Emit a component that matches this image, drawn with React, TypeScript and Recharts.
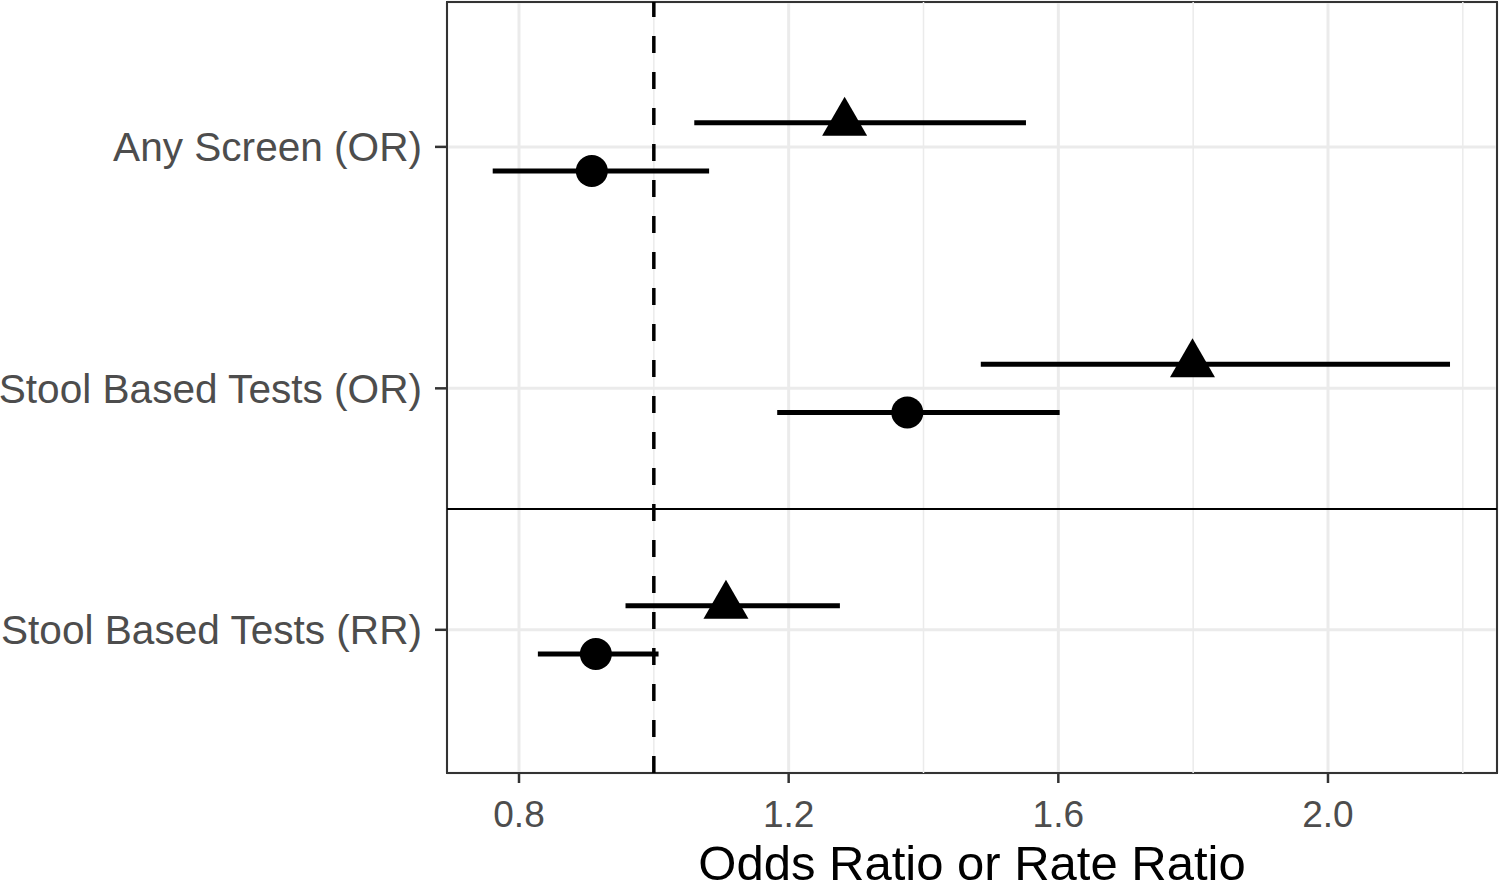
import {
  ScatterChart,
  Scatter,
  XAxis,
  YAxis,
  CartesianGrid,
  ReferenceLine,
  ReferenceArea,
  ErrorBar,
} from "recharts";

const categories = ["Any Screen (OR)", "Stool Based Tests (OR)", "Stool Based Tests (RR)"];
const categoryPos = [3, 2, 1];

// triangle group (drawn slightly above the category line)
const triEst = [1.283, 1.799, 1.107];
const triLow = [1.06, 1.485, 0.958];
const triHigh = [1.552, 2.181, 1.276];

// circle group (drawn slightly below)
const circEst = [0.908, 1.376, 0.914];
const circLow = [0.761, 1.183, 0.828];
const circHigh = [1.082, 1.602, 1.007];

const xTicks = [0.8, 1.2, 1.6, 2.0];
const xMinor = [1.0, 1.4, 1.8, 2.2];

const X_DOMAIN: [number, number] = [0.6932, 2.2507];
const Y_DOMAIN: [number, number] = [0.407, 3.6];
const DODGE = 0.1;

const build = (est: number[], low: number[], high: number[], shift: number) =>
  est.map((v, i) => ({
    x: v,
    y: categoryPos[i] + shift,
    ex: [v - low[i], high[i] - v],
  }));

const triData = build(triEst, triLow, triHigh, DODGE);
const circData = build(circEst, circLow, circHigh, -DODGE);

const Triangle = (props: any) => {
  const { cx, cy } = props;
  if (cx == null || cy == null) return null;
  const pts = `${cx},${cy - 26} ${cx - 22.5},${cy + 13} ${cx + 22.5},${cy + 13}`;
  return <polygon points={pts} fill="#000" />;
};

const Dot = (props: any) => {
  const { cx, cy } = props;
  if (cx == null || cy == null) return null;
  return <circle cx={cx} cy={cy} r={16} fill="#000" />;
};

const yLabel = (v: number) => {
  const i = categoryPos.indexOf(v);
  return i >= 0 ? categories[i] : "";
};

export default function App() {
  return (
    <div style={{ position: "absolute", left: 0, top: 0, background: "#fff" }}>
      <ScatterChart
        width={1500}
        height={886}
        margin={{ top: 2, right: 3, left: 0, bottom: 0 }}
        style={{ fontFamily: "'Liberation Sans', Arial, sans-serif" }}
      >
        {xMinor.map((v) => (
          <ReferenceLine key={v} x={v} stroke="#ebebeb" strokeWidth={1.5} />
        ))}
        <CartesianGrid stroke="#ebebeb" strokeWidth={3} />
        <XAxis
          type="number"
          dataKey="x"
          domain={X_DOMAIN}
          allowDataOverflow
          ticks={xTicks}
          tickFormatter={(v: number) => v.toFixed(1)}
          height={113}
          tickSize={10}
          tickMargin={18}
          axisLine={false}
          tickLine={{ stroke: "#333", strokeWidth: 2.5 }}
          tick={{ fill: "#4d4d4d", fontSize: 37 }}
          label={{
            value: "Odds Ratio or Rate Ratio",
            position: "insideBottom",
            offset: 6,
            fill: "#000",
            fontSize: 49,
          }}
        />
        <YAxis
          type="number"
          dataKey="y"
          domain={Y_DOMAIN}
          allowDataOverflow
          ticks={categoryPos}
          tickFormatter={yLabel}
          width={447}
          tickSize={12}
          tickMargin={13}
          axisLine={false}
          tickLine={{ stroke: "#333", strokeWidth: 2.5 }}
          tick={{ fill: "#4d4d4d", fontSize: 40.6 }}
        />
        <ReferenceLine y={1.5} stroke="#000" strokeWidth={2} />
        <ReferenceLine x={1} stroke="#000" strokeWidth={3.5} strokeDasharray="17 19" />
        <Scatter data={circData} shape={Dot} isAnimationActive={false}>
          <ErrorBar dataKey="ex" direction="x" width={0} stroke="#000" strokeWidth={5} />
        </Scatter>
        <Scatter data={triData} shape={Triangle} isAnimationActive={false}>
          <ErrorBar dataKey="ex" direction="x" width={0} stroke="#000" strokeWidth={5} />
        </Scatter>
        <ReferenceArea
          x1={X_DOMAIN[0]}
          x2={X_DOMAIN[1]}
          y1={Y_DOMAIN[0]}
          y2={Y_DOMAIN[1]}
          fill="none"
          stroke="#333"
          strokeWidth={2}
          ifOverflow="visible"
        />
      </ScatterChart>
    </div>
  );
}
